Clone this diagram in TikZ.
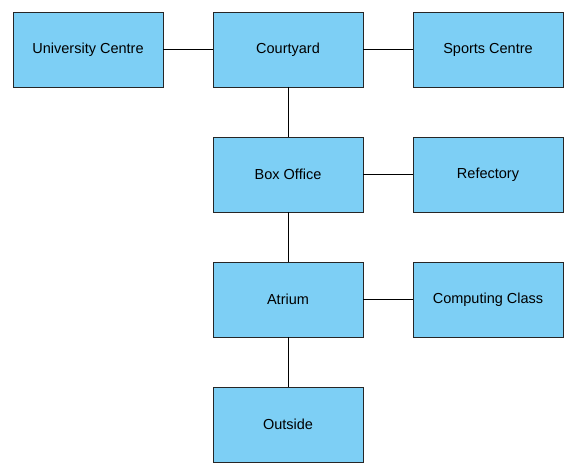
\documentclass[tikz,border=0pt]{standalone}
\usepackage{fontspec}
\setmainfont{Liberation Sans}
\usepackage{tikz}
\usetikzlibrary{positioning}
\definecolor{roomblue}{RGB}{125,207,245}

\begin{document}
\begin{tikzpicture}[x=1pt,y=1pt,
	room/.style={rectangle,draw=black!85,fill=roomblue,line width=0.9pt,inner sep=0pt,outer sep=0pt,minimum width=150pt,minimum height=75pt,font=\fontsize{14.5}{17}\selectfont},
	link/.style={-,line width=0.9pt,black}
	]
\useasboundingbox (0,0) rectangle (575,-473);
\node[room](court) at (288,-49.5) {Courtyard};

\node[room](uni) [left = 50pt of court] {University Centre};
\node[room](sports) [right = 50pt of court] {Sports Centre};

\node[room](box) [below = 50pt of court] {Box Office};
\node[room](refect) [right = 50pt of box] {Refectory};

\node[room](atrium) [below = 50pt of box] {Atrium};
\node[room](comp) [right = 50pt of atrium] {Computing Class};

\node[room](outside) [below = 50pt of atrium] {Outside};

\draw[link](uni) -- (court);
\draw[link](court) -- (sports);
\draw[link](court) -- (box);
\draw[link](box) -- (refect);
\draw[link](box) -- (atrium);
\draw[link](atrium) -- (comp);
\draw[link](atrium) -- (outside);
\end{tikzpicture}
\end{document}
